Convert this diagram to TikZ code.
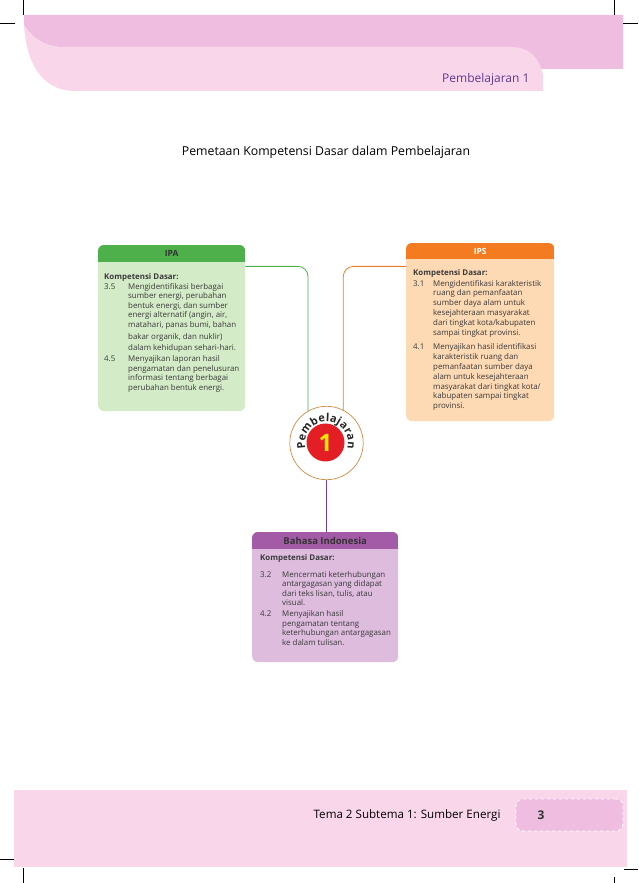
\documentclass[tikz,border=0pt]{standalone}
\usepackage{fontspec}
\setmainfont{Open Sans}
\usetikzlibrary{decorations.text}
\definecolor{bandpink}{HTML}{EEBDE0}
\definecolor{softpink}{HTML}{FAD6EB}
\definecolor{lessonpurple}{HTML}{5B3A8E}
\definecolor{ipagreen}{HTML}{4DB04A}
\definecolor{ipalight}{HTML}{D4EBC7}
\definecolor{ipsorange}{HTML}{F47B20}
\definecolor{ipslight}{HTML}{FDD9B4}
\definecolor{bindpurple}{HTML}{A35BA8}
\definecolor{bindlight}{HTML}{DDBCDD}
\definecolor{bindline}{HTML}{7B3F8C}
\definecolor{ringbrown}{HTML}{D48A45}
\definecolor{numred}{HTML}{E31E24}
\definecolor{numyellow}{HTML}{FFE600}
\definecolor{bodygray}{HTML}{3A3A3A}
\tikzset{
    cropmark/.style={line width=0.6pt, black}, % tanda potong
    kdbox/.style={rounded corners=6pt, anchor=north west, inner sep=0pt}, % kotak KD
    kdhead/.style={anchor=north, inner sep=0pt, font=\fontsize{8.5}{10}\selectfont\bfseries}, % judul kotak
    kdtext/.style={anchor=north west, inner sep=0pt, text=bodygray, font=\fontsize{7.9}{9.5}\selectfont}, % isi kotak
    link/.style={line width=0.8pt, rounded corners=10pt}
}

\begin{document}
\begin{tikzpicture}[x=1pt, y=1pt]
    \useasboundingbox (0,0) rectangle (638,883);

    % pita atas
    \fill[bandpink] (24,868) -- (623,868) -- (623,814) -- (120,814) -- (120,836) -- (62,836)
        .. controls (45,836) and (32,845) .. (24,858) -- cycle;
    \fill[softpink] (24,858) .. controls (26,823) and (40,792) .. (75,792) -- (543,792) -- (543,808)
        .. controls (538,828) and (528,836) .. (510,836) -- (62,836) .. controls (45,836) and (32,845) .. (24,858) -- cycle;
    \node[anchor=east, text=lessonpurple, font=\fontsize{12}{14}\selectfont] (lesson) at (533,804) {Pembelajaran 1};

    \node[font=\fontsize{12.3}{14}\selectfont] (title) at (326,731) {Pemetaan Kompetensi Dasar dalam Pembelajaran};

    % IPA
    \node[kdbox, fill=ipalight, minimum width=147pt, minimum height=166pt] (ipa) at (98,638) {};
    \begin{scope}
        \clip[rounded corners=6pt] (ipa.south west) rectangle (ipa.north east);
        \node[kdhead, fill=ipagreen, text=black!80, minimum width=147pt, minimum height=17pt] (ipahead) at (ipa.north) {IPA};
    \end{scope}
    \node[kdtext] (ipatext) at ([xshift=6pt,yshift=-28pt]ipa.north west) {%
        \begin{tabular}{@{}p{24pt}@{}l@{}}
        \multicolumn{2}{@{}l@{}}{\bfseries Kompetensi Dasar:}\\
        3.5 & Mengidentifikasi berbagai\\
            & sumber energi, perubahan\\
            & bentuk energi, dan sumber\\
            & energi alternatif (angin, air,\\
            & matahari, panas bumi, bahan\\[3pt]
            & bakar organik, dan nuklir)\\[1.5pt]
            & dalam kehidupan sehari-hari.\\[1.5pt]
        4.5 & Menyajikan laporan hasil\\
            & pengamatan dan penelusuran\\
            & informasi tentang berbagai\\
            & perubahan bentuk energi.
        \end{tabular}};

    % IPS
    \node[kdbox, fill=ipslight, minimum width=148pt, minimum height=178pt] (ips) at (406,640) {};
    \begin{scope}
        \clip[rounded corners=6pt] (ips.south west) rectangle (ips.north east);
        \node[kdhead, fill=ipsorange, text=white, minimum width=148pt, minimum height=16pt] (ipshead) at (ips.north) {IPS};
    \end{scope}
    \node[kdtext, font=\fontsize{7.9}{9.9}\selectfont] (ipstext) at ([xshift=7pt,yshift=-25pt]ips.north west) {%
        \begin{tabular}{@{}p{20pt}@{}l@{}}
        \multicolumn{2}{@{}l@{}}{\bfseries Kompetensi Dasar:}\\[1pt]
        3.1 & Mengidentifikasi karakteristik\\
            & ruang dan pemanfaatan\\
            & sumber daya alam untuk\\
            & kesejahteraan masyarakat\\
            & dari tingkat kota/kabupaten\\
            & sampai tingkat provinsi.\\[4pt]
        4.1 & Menyajikan hasil identifikasi\\
            & karakteristik ruang dan\\
            & pemanfaatan sumber daya\\
            & alam untuk kesejahteraan\\
            & masyarakat dari tingkat kota/\\
            & kabupaten sampai tingkat\\
            & provinsi.
        \end{tabular}};

    % lingkaran pembelajaran
    \node[circle, draw=ringbrown, fill=white, line width=0.7pt, minimum size=73.4pt, inner sep=0pt] (ring) at (326.5,440) {};
    \node[circle, fill=numred, minimum size=38pt, inner sep=0pt, text=numyellow,
          font=\fontsize{24}{24}\selectfont\bfseries] (num) at (325.5,440.5) {1};
    \path[shift={(ring.center)}, decorate, decoration={text along path, text align=fit to path,
          text={|\fontsize{11}{12}\selectfont\bfseries\color{black!85}|Pembelajaran}}]
        (195:21.5) arc[start angle=195, end angle=-15, radius=21.5];

    % Bahasa Indonesia
    \node[kdbox, fill=bindlight, minimum width=146pt, minimum height=130pt] (bind) at (252,351) {};
    \begin{scope}
        \clip[rounded corners=6pt] (bind.south west) rectangle (bind.north east);
        \node[kdhead, fill=bindpurple, text=black!80, minimum width=146pt, minimum height=17pt,
              font=\fontsize{9.5}{11}\selectfont\bfseries] (bindhead) at (bind.north) {Bahasa Indonesia};
    \end{scope}
    \node[kdtext] (bindtext) at ([xshift=8pt,yshift=-22pt]bind.north west) {%
        \begin{tabular}{@{}p{22pt}@{}l@{}}
        \multicolumn{2}{@{}l@{}}{\bfseries Kompetensi Dasar:}\\[7pt]
        3.2 & Mencermati keterhubungan\\
            & antargagasan yang didapat\\
            & dari teks lisan, tulis, atau\\
            & visual.\\[1.5pt]
        4.2 & Menyajikan hasil\\
            & pengamatan tentang\\
            & keterhubungan antargagasan\\
            & ke dalam tulisan.
        \end{tabular}};

    % garis penghubung
    \draw[link, ipagreen] ([yshift=-4pt]ipahead.south east) -| (ring.120);
    \draw[link, ipsorange!85!brown] ([yshift=-7pt]ipshead.south west) -| (ring.63);
    \draw[link, bindline] (ring.south) -- (bindhead.north -| ring.south);

    % pita bawah
    \fill[softpink] (14,16) rectangle (627,93);
    \node[anchor=east, font=\fontsize{11.6}{13}\selectfont] (theme) at (504,68) {Tema 2 Subtema 1: Sumber Energi};
    \node[fill=bandpink, draw=white, dashed, line width=0.8pt, rounded corners=7pt,
          minimum width=107pt, minimum height=32pt] (pagebox) at (569.5,68) {};
    \node[font=\fontsize{12}{14}\selectfont\bfseries, text=black!80] (pagenum) at (541,68) {3};

    % tanda potong
    \draw[cropmark] (23,883) -- (23,868);
    \draw[cropmark] (0,860) -- (15,860);
    \draw[cropmark] (614,883) -- (614,868);
    \draw[cropmark] (623,860) -- (638,860);
    \draw[cropmark] (0,24) -- (14,24);
    \draw[cropmark] (23,15) -- (23,0);
    \draw[cropmark] (624,14) -- (638,14);
    \draw[cropmark] (614,6) -- (614,0);
\end{tikzpicture}
\end{document}
